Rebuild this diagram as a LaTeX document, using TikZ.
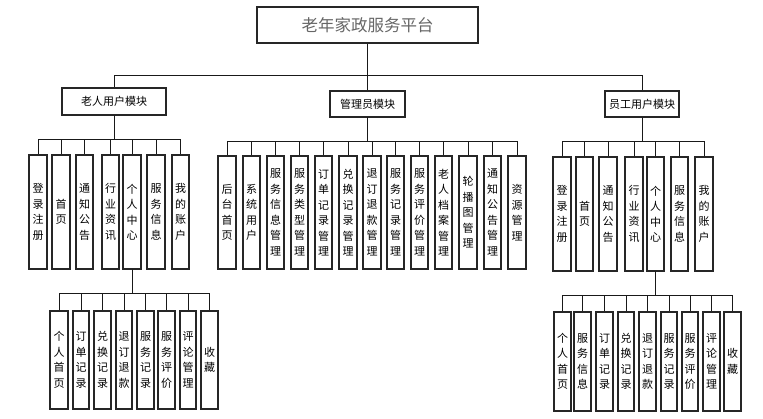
\documentclass[tikz,border=0pt]{standalone}
\usepackage{fontspec}
\setmainfont{Noto Sans CJK SC}
\tikzset{
  vbox/.style={draw=black!85, line width=1.1pt, fill=white, inner sep=0pt, align=center,
    font=\fontsize{11}{15.5}\selectfont},
  hbox/.style={draw=black!85, line width=1.1pt, fill=white, inner sep=0pt,
    font=\fontsize{11}{13}\selectfont},
  titlebox/.style={draw=black!85, line width=1.2pt, fill=white, inner sep=0pt,
    text=black!60, font=\fontsize{16.5}{18}\selectfont},
  conn/.style={draw=black!90, line width=0.9pt}
}
\newcommand{\vbx}[6]{\node[vbox,minimum width={#3-#2},minimum height={#5-#4}] (#1) at ({(#2+#3)/2},{(#4+#5)/2}) {#6};}
\begin{document}
\begin{tikzpicture}[x=1pt,y=-1pt]
\useasboundingbox[fill=white] (0,0) rectangle (763,418);
% root and modules
\node[titlebox,minimum width=221,minimum height=36] (root) at (367.5,25) {老年家政服务平台};
\node[hbox,minimum width=104,minimum height=27] (m1) at (114,101.5) {老人用户模块};
\node[hbox,minimum width=75,minimum height=26] (m2) at (367.5,104) {管理员模块};
\node[hbox,minimum width=74,minimum height=26] (m3) at (642,104) {员工用户模块};
\draw[conn] (root.south) -- (root.south |- 0,75) -| (m1.north);
\draw[conn] (root.south) -- (m2.north);
\draw[conn] (root.south |- 0,75) -| (m3.north);
% elderly user children
\vbx{a1}{29}{47}{155}{269}{登\\录\\注\\册}
\vbx{a2}{52}{70}{155}{269}{首\\页}
\vbx{a3}{76}{93}{155}{269}{通\\知\\公\\告}
\vbx{a4}{102}{119}{155}{269}{行\\业\\资\\讯}
\vbx{a5}{123}{141}{155}{269}{个\\人\\中\\心}
\vbx{a6}{147}{165}{155}{269}{服\\务\\信\\息}
\vbx{a7}{172}{189}{155}{269}{我\\的\\账\\户}
\foreach \c in {a1,a2,a3,a4,a5,a6,a7}
  \draw[conn] (m1.south) -- (m1.south |- 0,139) -| (\c.north);
% elderly personal center
\vbx{b1}{50}{68}{311}{409}{个\\人\\首\\页}
\vbx{b2}{73}{89}{311}{409}{订\\单\\记\\录}
\vbx{b3}{94}{111}{311}{409}{兑\\换\\记\\录}
\vbx{b4}{116}{132}{311}{409}{退\\订\\退\\款}
\vbx{b5}{137}{154}{311}{409}{服\\务\\记\\录}
\vbx{b6}{158}{175}{311}{409}{服\\务\\评\\价}
\vbx{b7}{180}{196}{311}{409}{评\\论\\管\\理}
\vbx{b8}{201}{218}{311}{409}{收\\藏}
\foreach \c in {b1,b2,b3,b4,b5,b6,b7,b8}
  \draw[conn] (a5.south) -- (a5.south |- 0,293) -| (\c.north);
% admin children
\vbx{c1}{218}{236}{156}{269}{后\\台\\首\\页}
\vbx{c2}{243}{260}{156}{269}{系\\统\\用\\户}
\vbx{c3}{267}{284}{156}{269}{服\\务\\信\\息\\管\\理}
\vbx{c4}{291}{308}{156}{269}{服\\务\\类\\型\\管\\理}
\vbx{c5}{315}{332}{156}{269}{订\\单\\记\\录\\管\\理}
\vbx{c6}{339}{357}{156}{269}{兑\\换\\记\\录\\管\\理}
\vbx{c7}{363}{381}{156}{269}{退\\订\\退\\款\\管\\理}
\vbx{c8}{387}{404}{156}{269}{服\\务\\记\\录\\管\\理}
\vbx{c9}{411}{428}{156}{269}{服\\务\\评\\价\\管\\理}
\vbx{c10}{435}{452}{156}{269}{老\\人\\档\\案\\管\\理}
\vbx{c11}{459}{477}{156}{269}{轮\\播\\图\\管\\理}
\vbx{c12}{484}{501}{156}{269}{通\\知\\公\\告\\管\\理}
\vbx{c13}{508}{526}{156}{269}{资\\源\\管\\理}
\foreach \c in {c1,c2,c3,c4,c5,c6,c7,c8,c9,c10,c11,c12,c13}
  \draw[conn] (m2.south) -- (m2.south |- 0,141) -| (\c.north);
% staff children
\vbx{d1}{553}{571}{157}{271}{登\\录\\注\\册}
\vbx{d2}{576}{593}{157}{271}{首\\页}
\vbx{d3}{599}{617}{157}{271}{通\\知\\公\\告}
\vbx{d4}{625}{643}{157}{271}{行\\业\\资\\讯}
\vbx{d5}{647}{664}{157}{271}{个\\人\\中\\心}
\vbx{d6}{671}{688}{157}{271}{服\\务\\信\\息}
\vbx{d7}{695}{713}{157}{271}{我\\的\\账\\户}
\foreach \c in {d1,d2,d3,d4,d5,d6,d7}
  \draw[conn] (m3.south) -- (m3.south |- 0,141) -| (\c.north);
% staff personal center
\vbx{e1}{554}{571}{312}{411}{个\\人\\首\\页}
\vbx{e2}{574}{591}{312}{411}{服\\务\\信\\息}
\vbx{e3}{596}{613}{312}{411}{订\\单\\记\\录}
\vbx{e4}{618}{634}{312}{411}{兑\\换\\记\\录}
\vbx{e5}{639}{656}{312}{411}{退\\订\\退\\款}
\vbx{e6}{661}{677}{312}{411}{服\\务\\记\\录}
\vbx{e7}{682}{698}{312}{411}{服\\务\\评\\价}
\vbx{e8}{703}{720}{312}{411}{评\\论\\管\\理}
\vbx{e9}{724}{741}{312}{411}{收\\藏}
\foreach \c in {e1,e2,e3,e4,e5,e6,e7,e8,e9}
  \draw[conn] (d5.south) -- (d5.south |- 0,295) -| (\c.north);
\end{tikzpicture}
\end{document}
